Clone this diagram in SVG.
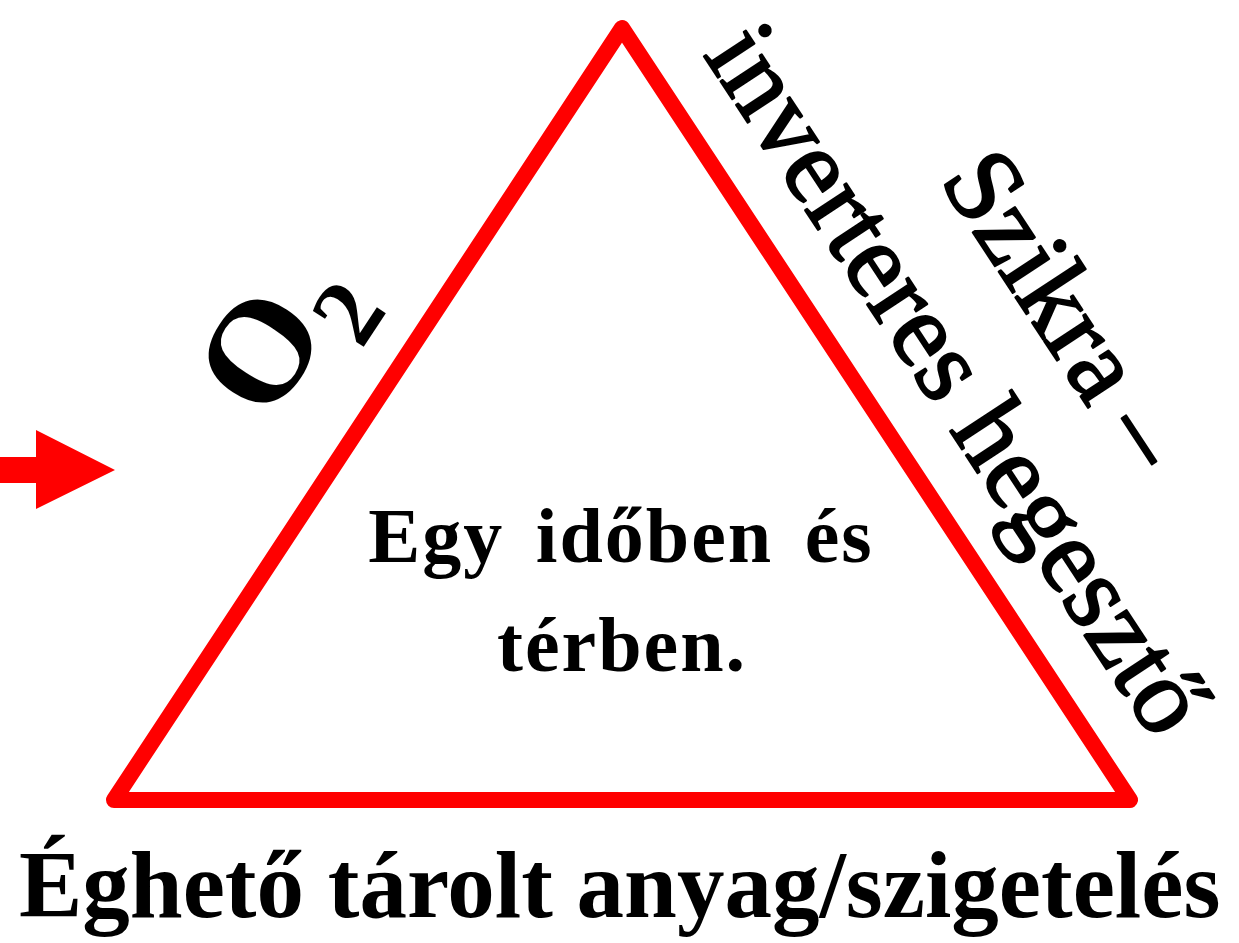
<svg xmlns="http://www.w3.org/2000/svg" width="1239" height="943" viewBox="0 0 1239 943">
<style>
.serif{font-family:"Liberation Serif","Times New Roman",serif;fill:#000}
.b{font-weight:bold}
.heavy{stroke:#000;stroke-width:2.2;stroke-linejoin:round}
</style>
<rect width="1239" height="943" fill="#fff"/>
<g id="connectors">
<polygon id="arrow" points="0,457 36,457 36,430 115,470 36,509 36,483 0,483" fill="#ff0000"/>
</g>
<g id="triangle">
<polygon points="622,28 1130,800 114,800" fill="none" stroke="#ff0000" stroke-width="16" stroke-linejoin="round"/>
</g>
<g id="oxygen" transform="translate(114,800) rotate(-56.7)">
<text class="serif b" x="399" y="-77" font-size="145">O<tspan font-size="97" dy="37">2</tspan></text>
</g>
<g id="spark" transform="translate(622,28) rotate(56.7)">
<text class="serif heavy" text-anchor="middle" font-size="107"><tspan x="478" y="-181">Szikra –</tspan><tspan x="478" y="-53">inverteres hegesztő</tspan></text>
</g>
<g id="center">
<text class="serif b" text-anchor="middle" font-size="78" letter-spacing="2" word-spacing="10"><tspan x="621" y="562">Egy időben és</tspan><tspan x="622" y="671">térben.</tspan></text>
</g>
<g id="fuel">
<text class="serif b" x="19" y="917" font-size="95">Éghető tárolt anyag/szigetelés</text>
</g>
</svg>
